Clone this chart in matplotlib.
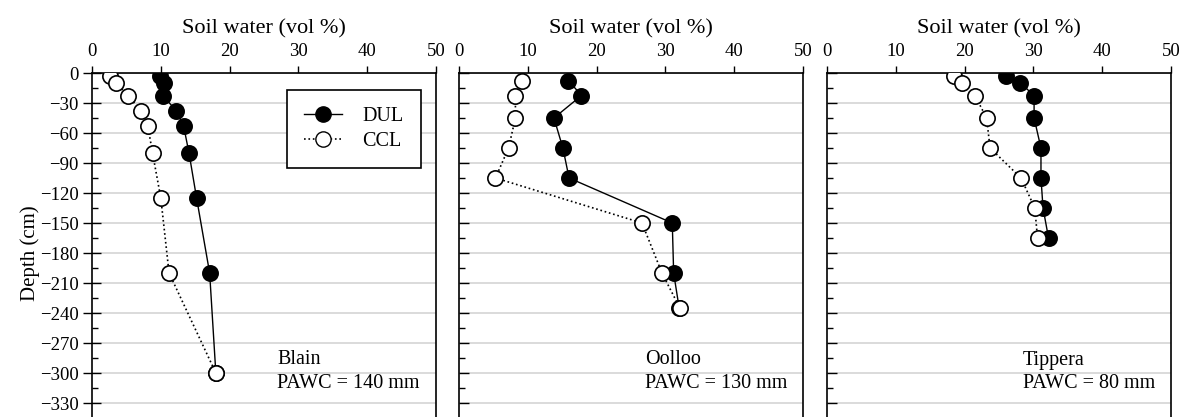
import matplotlib
matplotlib.use("Agg")
import matplotlib.pyplot as plt
from matplotlib.ticker import MultipleLocator
from matplotlib.lines import Line2D

plt.rcParams['font.family'] = ['Liberation Serif', 'DejaVu Serif']

# soil water profiles (vol %)
sites = ['Blain', 'Oolloo', 'Tippera']
pawc = ['PAWC = 140 mm', 'PAWC = 130 mm', 'PAWC = 80 mm']

blain_depth = [-2.5, -10, -22.5, -37.5, -52.5, -80, -125, -200, -300]
blain_dul = [9.9, 10.5, 10.3, 12.2, 13.3, 14.1, 15.2, 17.1, 18.0]
blain_ccl = [2.6, 3.5, 5.2, 7.1, 8.1, 8.8, 10.0, 11.2, 18.0]

oolloo_depth = [-7.5, -22.5, -45, -75, -105, -150, -200, -235]
oolloo_dul = [15.9, 17.8, 13.8, 15.1, 16.0, 31.0, 31.2, 32.0]
oolloo_ccl = [9.1, 8.2, 8.2, 7.2, 5.3, 26.6, 29.5, 32.1]

tippera_depth = [-2.5, -10, -22.5, -45, -75, -105, -135, -165]
tippera_dul = [26.0, 28.1, 30.1, 30.1, 31.1, 31.1, 31.4, 32.2]
tippera_ccl = [18.5, 19.6, 21.5, 23.2, 23.7, 28.2, 30.2, 30.6]

depth_ticks = list(range(0, -331, -30))

depths = [blain_depth, oolloo_depth, tippera_depth]
duls = [blain_dul, oolloo_dul, tippera_dul]
ccls = [blain_ccl, oolloo_ccl, tippera_ccl]
text_x = [26.9, 27.0, 28.5]

W, H = 1181, 417
fig = plt.figure(figsize=(W / 100, H / 100), dpi=100)

lefts = [92, 459, 827]
for i in range(3):
    ax = fig.add_axes([lefts[i] / W, (H - 433) / H, 344 / W, 360 / H])
    ax.plot(duls[i], depths[i], '-o', color='black', lw=1.0,
            ms=11, mfc='black', mec='black', mew=1.2, zorder=3)
    ax.plot(ccls[i], depths[i], ':o', color='black', lw=1.2,
            ms=11, mfc='white', mec='black', mew=1.2, zorder=4)
    ax.set_xlim(0, 50)
    ax.set_ylim(-360, 0)
    ax.xaxis.set_major_locator(MultipleLocator(10))
    ax.set_yticks(depth_ticks)
    ax.yaxis.set_minor_locator(MultipleLocator(15))
    ax.xaxis.tick_top()
    ax.xaxis.set_label_position('top')
    ax.tick_params(axis='x', which='major', direction='out', length=5,
                   width=1.0, labelsize=13.5, pad=4)
    if i == 0:
        ax.tick_params(axis='y', which='major', direction='inout',
                       length=13, width=1.0, labelsize=13.5, pad=3)
    else:
        ax.tick_params(axis='y', which='major', direction='in',
                       length=7, width=1.0, labelleft=False)
    ax.tick_params(axis='y', which='minor', direction='in', length=4,
                   width=1.0)
    ax.grid(axis='y', which='major', color='#d4d4d4', lw=1.2)
    ax.set_axisbelow(True)
    for s in ax.spines.values():
        s.set_linewidth(1.2)
    ax.set_xlabel('Soil water (vol %)', fontsize=16, labelpad=7)
    if i == 0:
        ax.set_ylabel('Depth (cm)', fontsize=15, labelpad=0)
        handles = [Line2D([], [], ls='-', color='black', lw=1.0, marker='o',
                          ms=11, mfc='black', mec='black'),
                   Line2D([], [], ls=':', color='black', lw=1.2, marker='o',
                          ms=11, mfc='white', mec='black')]
        leg = ax.legend(handles, ['DUL', 'CCL'], loc='upper left',
                        bbox_to_anchor=(0.567, 0.953), borderaxespad=0,
                        fontsize=14.5, frameon=True, fancybox=False,
                        framealpha=1, edgecolor='black', borderpad=0.85,
                        labelspacing=0.3, handlelength=1.9,
                        handletextpad=1.0, numpoints=1)
        leg.get_frame().set_linewidth(1.2)
    ax.text(text_x[i], -287, sites[i], fontsize=14.5, va='center', ha='left')
    ax.text(text_x[i], -311, pawc[i], fontsize=14.5, va='center', ha='left')

fig.savefig('out.png', dpi=100)
